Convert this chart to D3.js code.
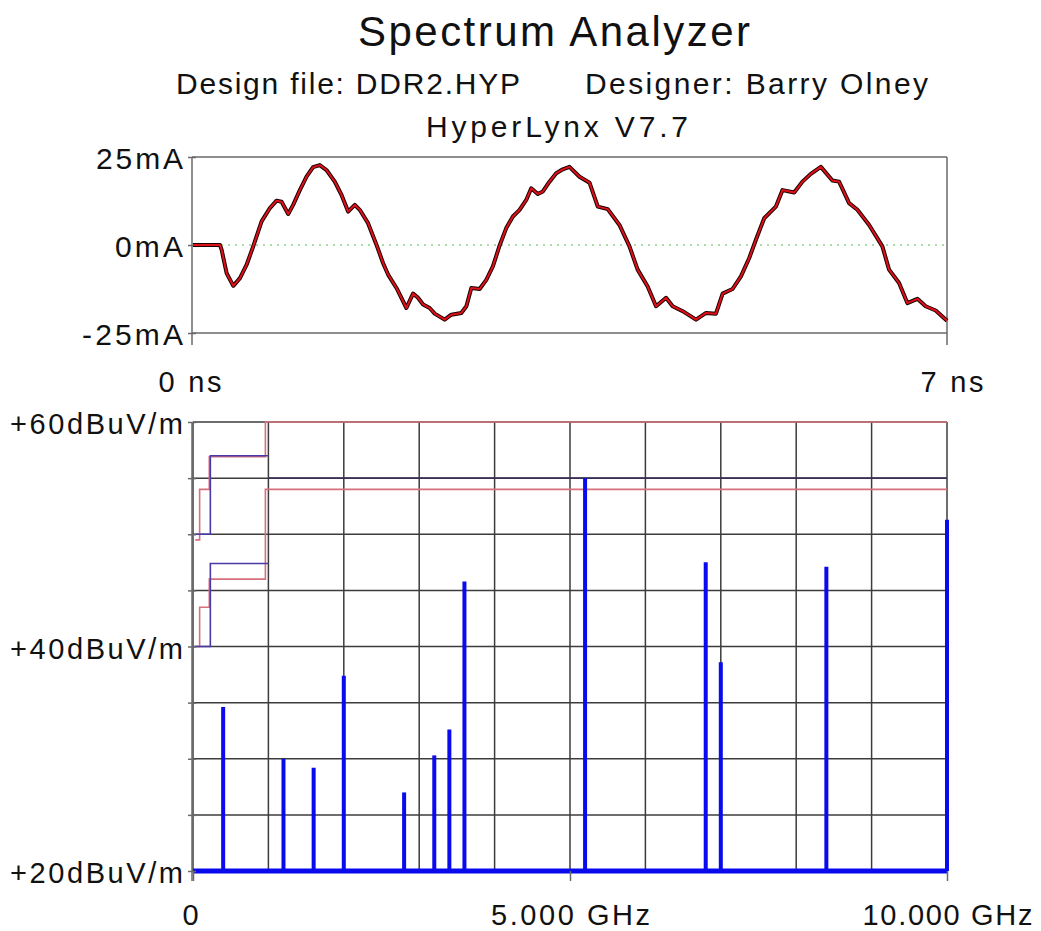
<!DOCTYPE html>
<html>
<head>
<meta charset="utf-8">
<script src="https://cdn.jsdelivr.net/npm/d3@7"></script>
<style>
  body { margin: 0; background: #fff; }
  text { font-family: "Liberation Sans", Arial, sans-serif; fill: #111; }
</style>
</head>
<body>
<svg width="1041" height="931"></svg>
<script>
// ---- data ----
// time-domain current (ns, mA)
var timeNs = [0, 0.25, 0.266, 0.312, 0.374, 0.436, 0.498, 0.559, 0.637, 0.714, 0.776, 0.822, 0.884, 0.93, 0.992,
  1.054, 1.115, 1.177, 1.239, 1.316, 1.379, 1.44, 1.502, 1.548, 1.625, 1.703, 1.764, 1.811, 1.889, 1.981,
  2.043, 2.089, 2.136, 2.197, 2.244, 2.336, 2.398, 2.491, 2.538, 2.584, 2.661, 2.723, 2.784, 2.846, 2.908,
  2.97, 3.032, 3.094, 3.14, 3.201, 3.248, 3.31, 3.372, 3.433, 3.495, 3.588, 3.681, 3.758, 3.85, 3.959,
  4.052, 4.128, 4.221, 4.299, 4.392, 4.453, 4.546, 4.67, 4.763, 4.855, 4.917, 5.009, 5.087, 5.164, 5.226,
  5.303, 5.411, 5.473, 5.581, 5.658, 5.736, 5.829, 5.936, 5.998, 6.091, 6.168, 6.277, 6.4, 6.462, 6.555,
  6.632, 6.725, 6.802, 6.895, 7.0];
var currentMa = [0, 0, -1.4, -8.0, -11.6, -9.4, -5.6, -0.4, 6.7, 10.5, 12.6, 12.3, 8.8, 11.4, 15.6,
  19.4, 22.1, 22.7, 21.3, 18.0, 14.2, 9.5, 11.4, 10.0, 6.2, 0.1, -5.1, -8.4, -12.2, -17.9,
  -13.8, -15.0, -16.9, -17.9, -19.5, -21.2, -19.8, -19.3, -17.4, -12.2, -12.5, -9.9, -6.1, -0.2, 4.8,
  8.1, 10.0, 12.8, 16.1, 14.5, 15.2, 18.0, 20.4, 21.5, 22.2, 19.4, 17.7, 10.9, 10.2, 5.7,
  -0.4, -7.0, -11.8, -17.4, -15.0, -17.4, -18.8, -21.2, -19.3, -19.5, -13.8, -12.5, -8.9, -3.7, 1.5,
  7.6, 10.9, 15.6, 14.9, 18.0, 20.2, 22.2, 18.3, 18.0, 11.9, 10.0, 5.7, -0.4, -7.0, -10.8,
  -16.5, -15.3, -17.4, -18.6, -21.5];

// spectrum harmonics (GHz, dBuV/m)
var spikeGHz = [0.4, 1.2, 1.6, 2.0, 2.8, 3.2, 3.4, 3.6, 5.2, 6.8, 7.0, 8.4, 10.0];
var spikeDb  = [34.6, 30.0, 29.2, 37.4, 27.0, 30.3, 32.6, 45.8, 55.0, 47.5, 38.6, 47.1, 51.3];
var floorDb = 20;

// emission limit steps (breakpoints in GHz, levels in dBuV/m)
var redAFreq  = [0.03, 0.088, 0.216, 0.96, 10];
var redALevel = [49.5, 54, 56.9, 60];
var redBFreq  = [0.03, 0.088, 0.216, 0.96, 10];
var redBLevel = [40, 43.5, 46, 54];
var blueAFreq  = [0.03, 0.23, 1];
var blueALevel = [50, 57];
var blueBFreq  = [0.03, 0.23, 1];
var blueBLevel = [40, 47.4];
var blueHighFreq  = [1, 10];
var blueHighLevel = [55];

// axis ticks
var curTicks = [-25, 0, 25];
var dbTicks = [20, 40, 60];
var dbGrid = [20, 25, 30, 35, 40, 45, 50, 55, 60];
var ghzGrid = [0, 1, 2, 3, 4, 5, 6, 7, 8, 9, 10];
var ghzLabels = [0, 5, 10];

var svg = d3.select("svg");

var xTime = d3.scaleLinear().domain([0, 7]).range([193, 947]),
    yCur = d3.scaleLinear().domain([-25, 25]).range([333, 157]),
    xFreq = d3.scaleLinear().domain([0, 10]).range([193, 947]),
    yDb = d3.scaleLinear().domain([20, 60]).range([871, 422]);

// ---- headings ----
function label(txt, x, y, size, len, anchor) {
  return svg.append("text")
      .attr("x", x).attr("y", y)
      .attr("font-size", size)
      .attr("text-anchor", anchor || "start")
      .attr("textLength", len)
      .attr("lengthAdjust", "spacing")
      .text(txt);
}
label("Spectrum Analyzer", 358, 46, 42, 392);
label("Design file: DDR2.HYP", 176, 94, 30, 344);
label("Designer: Barry Olney", 585, 94, 30, 343);
label("HyperLynx V7.7", 426, 137, 30, 262);

// ---- top: current waveform ----
var gTop = svg.append("g");

gTop.append("line")
    .attr("x1", xTime(0)).attr("x2", xTime(7))
    .attr("y1", yCur(0)).attr("y2", yCur(0))
    .attr("stroke", "#8ed18e").attr("stroke-width", 1.5)
    .attr("stroke-dasharray", "2,5");

[25, -25].forEach(function(v) {
  gTop.append("line")
      .attr("x1", xTime(0) - 1).attr("x2", xTime(7))
      .attr("y1", yCur(v)).attr("y2", yCur(v))
      .attr("stroke", "#6a6a6a").attr("stroke-width", 1.5);
});
gTop.append("line")
    .attr("x1", xTime(7)).attr("x2", xTime(7))
    .attr("y1", yCur(25)).attr("y2", yCur(-25) + 12)
    .attr("stroke", "#6a6a6a").attr("stroke-width", 1.5);

var yCurAxis = d3.axisLeft(yCur)
    .tickValues(curTicks)
    .tickFormat(function(d) { return d + "mA"; })
    .tickSize(4).tickPadding(5);
var gCur = gTop.append("g")
    .attr("transform", "translate(" + (xTime(0) - 1) + ",0)")
    .call(yCurAxis);
gCur.select(".domain").attr("d", "M0," + yCur(25) + "V" + (yCur(-25) + 12))
    .attr("stroke", "#6a6a6a").attr("stroke-width", 1.5);
gCur.selectAll(".tick line").attr("x1", 4).attr("stroke", "#6a6a6a").attr("stroke-width", 1.5);
gCur.selectAll(".tick text")
    .attr("font-size", 30).attr("dy", "0.37em")
    .attr("font-family", "Liberation Sans, Arial, sans-serif").attr("fill", "#111")
    .attr("textLength", function(d) { return d === 0 ? 68 : d > 0 ? 87 : 101; })
    .attr("lengthAdjust", "spacing");

var wave = d3.line()
    .x(function(d, i) { return xTime(timeNs[i]); })
    .y(function(d, i) { return yCur(currentMa[i]); });
gTop.append("path").datum(currentMa)
    .attr("d", wave).attr("fill", "none")
    .attr("stroke", "#1a0000").attr("stroke-width", 4).attr("stroke-linejoin", "round");
gTop.append("path").datum(currentMa)
    .attr("d", wave).attr("fill", "none")
    .attr("stroke", "#e0101a").attr("stroke-width", 2).attr("stroke-linejoin", "round");

label("0 ns", xTime(0) - 3, 392, 29, 63, "middle");
label("7 ns", xTime(7) + 5, 392, 29, 63, "middle");

// ---- bottom: spectrum ----
var gBot = svg.append("g");

gBot.selectAll(".vgrid").data(ghzGrid).enter().append("line")
    .attr("class", "vgrid")
    .attr("x1", function(d) { return xFreq(d); }).attr("x2", function(d) { return xFreq(d); })
    .attr("y1", yDb(60)).attr("y2", yDb(20))
    .attr("stroke", "#3c3c3c").attr("stroke-width", 1.5);
gBot.selectAll(".hgrid").data(dbGrid).enter().append("line")
    .attr("class", "hgrid")
    .attr("x1", xFreq(0)).attr("x2", xFreq(10))
    .attr("y1", function(d) { return yDb(d); }).attr("y2", function(d) { return yDb(d); })
    .attr("stroke", "#3c3c3c").attr("stroke-width", 1.5);

function stepLine(freqs, levels) {
  var pts = levels.map(function(l, i) { return [freqs[i], l]; });
  pts.push([freqs[freqs.length - 1], levels[levels.length - 1]]);
  return d3.line().curve(d3.curveStepAfter)
      .x(function(d) { return xFreq(d[0]); })
      .y(function(d) { return yDb(d[1]); })(pts);
}
gBot.append("path").attr("d", stepLine(blueHighFreq, blueHighLevel))
    .attr("fill", "none").attr("stroke", "#3a2e52").attr("stroke-width", 1.8);
[[redAFreq, redALevel], [redBFreq, redBLevel]].forEach(function(s) {
  gBot.append("path").attr("d", stepLine(s[0], s[1]))
      .attr("fill", "none").attr("stroke", "#d8707c").attr("stroke-width", 1.6);
});
[[blueAFreq, blueALevel], [blueBFreq, blueBLevel]].forEach(function(s) {
  gBot.append("path").attr("d", stepLine(s[0], s[1]))
      .attr("fill", "none").attr("stroke", "#4a3aa8").attr("stroke-width", 1.6);
});

gBot.selectAll(".spike").data(spikeDb).enter().append("line")
    .attr("class", "spike")
    .attr("x1", function(d, i) { return xFreq(spikeGHz[i]); })
    .attr("x2", function(d, i) { return xFreq(spikeGHz[i]); })
    .attr("y1", yDb(floorDb))
    .attr("y2", function(d) { return yDb(d); })
    .attr("stroke", "#0a0aee").attr("stroke-width", 4);
gBot.append("line")
    .attr("x1", xFreq(0)).attr("x2", xFreq(10))
    .attr("y1", yDb(floorDb)).attr("y2", yDb(floorDb))
    .attr("stroke", "#0a0aee").attr("stroke-width", 5);

var yDbAxis = d3.axisLeft(yDb)
    .tickValues(dbGrid)
    .tickFormat(function(d) { return dbTicks.indexOf(d) >= 0 ? "+" + d + "dBuV/m" : ""; })
    .tickSize(4).tickPadding(5);
var gDb = gBot.append("g")
    .attr("transform", "translate(" + (xFreq(0) - 1) + ",0)")
    .call(yDbAxis);
gDb.select(".domain").attr("d", "M0," + yDb(60) + "V" + (yDb(20) + 10))
    .attr("stroke", "#6a6a6a").attr("stroke-width", 1.5);
gDb.selectAll(".tick line").attr("x1", 4).attr("stroke", "#6a6a6a").attr("stroke-width", 1.5);
gDb.selectAll(".tick text")
    .attr("font-size", 29).attr("dy", "0.4em")
    .attr("font-family", "Liberation Sans, Arial, sans-serif").attr("fill", "#111")
    .filter(function(d) { return dbTicks.indexOf(d) >= 0; })
    .attr("textLength", 173).attr("lengthAdjust", "spacing");

var xFreqAxis = d3.axisBottom(xFreq)
    .tickValues(ghzLabels)
    .tickFormat(function(d) { return d === 0 ? "0" : d3.format(".3f")(d) + " GHz"; })
    .tickSize(10).tickPadding(44);
var gF = gBot.append("g")
    .attr("transform", "translate(0," + yDb(20) + ")")
    .call(xFreqAxis);
gF.select(".domain").remove();
gF.selectAll(".tick line").attr("stroke", "#6a6a6a").attr("stroke-width", 1.5);
gF.selectAll(".tick text")
    .attr("font-size", 29).attr("dy", 0)
    .attr("font-family", "Liberation Sans, Arial, sans-serif").attr("fill", "#111")
    .attr("x", function(d) { return d === 0 ? -3 : 0; })
    .attr("textLength", function(d) { return d === 0 ? 16 : d === 5 ? 159 : 170; })
    .attr("lengthAdjust", "spacing");
</script>
</body>
</html>
